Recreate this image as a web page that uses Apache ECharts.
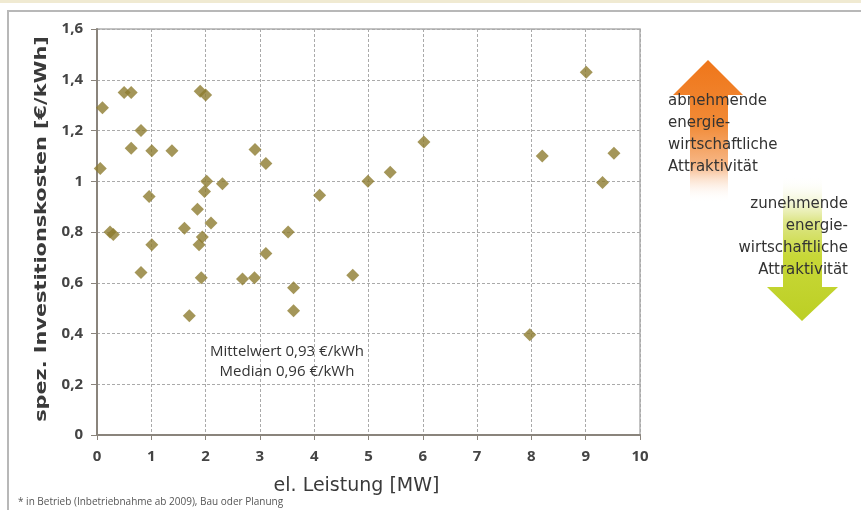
<!DOCTYPE html>
<html>
<head>
<meta charset="utf-8">
<script src="https://cdn.jsdelivr.net/npm/echarts@6/dist/echarts.min.js"></script>
<style>html,body{margin:0;padding:0;background:#fff;}#c{width:861px;height:510px;}</style>
</head>
<body>
<div id="c"></div>
<script>
// el. Leistung [MW]
var capacity = [0.10, 0.06, 0.24, 0.30, 0.50, 0.63, 0.63, 0.81, 0.81, 0.96, 1.01, 1.01, 1.38, 1.61, 1.70, 1.85, 1.88, 1.94, 1.90, 2.00, 2.02, 1.98, 1.92, 2.10, 2.31, 2.68, 2.90, 2.91, 3.11, 3.11, 3.52, 3.62, 3.62, 4.10, 4.71, 4.99, 5.40, 6.02, 7.97, 8.20, 9.01, 9.31, 9.52];
// spez. Investitionskosten [€/kWh]
var cost = [1.29, 1.05, 0.80, 0.79, 1.35, 1.35, 1.13, 1.20, 0.64, 0.94, 1.12, 0.75, 1.12, 0.815, 0.47, 0.89, 0.75, 0.78, 1.355, 1.34, 1.00, 0.96, 0.62, 0.835, 0.99, 0.615, 0.62, 1.125, 1.07, 0.715, 0.80, 0.58, 0.49, 0.945, 0.63, 1.00, 1.035, 1.155, 0.395, 1.10, 1.43, 0.995, 1.11];
var xTicks = [0, 1, 2, 3, 4, 5, 6, 7, 8, 9, 10];
var yTicks = [0, 0.2, 0.4, 0.6, 0.8, 1.0, 1.2, 1.4, 1.6];
var xTitle = 'el. Leistung [MW]';
var yTitle = 'spez. Investitionskosten [€/kWh]';
var statsText = ['Mittelwert 0,93 €/kWh', 'Median 0,96 €/kWh'];
var upText = ['abnehmende', 'energie-', 'wirtschaftliche', 'Attraktivität'];
var downText = ['zunehmende', 'energie-', 'wirtschaftliche', 'Attraktivität'];
var footnote = '* in Betrieb (Inbetriebnahme ab 2009), Bau oder Planung';

var points = capacity.map(function (x, i) { return [x, cost[i]]; });
var FONT = '"Open Sans", sans-serif';

var chart = echarts.init(document.getElementById('c'), null, {renderer: 'canvas'});
chart.setOption({
  backgroundColor: '#ffffff',
  animation: false,
  grid: {left: 97, right: 221, top: 29, bottom: 75, show: true, borderColor: '#b0b0b0', borderWidth: 1.5, backgroundColor: 'transparent'},
  xAxis: {
    type: 'value', min: xTicks[0], max: xTicks[xTicks.length - 1], interval: 1,
    name: xTitle, nameLocation: 'middle', nameGap: 42,
    nameTextStyle: {fontFamily: '"DejaVu Sans", sans-serif', fontSize: 19, color: '#3a3a3a', padding: [0, 24, 0, 0]},
    axisLine: {show: true, onZero: false, lineStyle: {color: '#8a847c', width: 2}},
    axisTick: {show: true, inside: false, length: 5, lineStyle: {color: '#8a847c'}},
    axisLabel: {fontFamily: FONT, fontSize: 15, fontWeight: 'bold', color: '#444', margin: 14},
    splitLine: {show: true, lineStyle: {color: '#aaaaaa', type: [3, 2], width: 1}}
  },
  yAxis: {
    type: 'value', min: yTicks[0], max: yTicks[yTicks.length - 1], interval: 0.2,
    axisLine: {show: true, onZero: false, lineStyle: {color: '#8a847c', width: 2}},
    axisTick: {show: true, length: 6, lineStyle: {color: '#8a847c'}},
    axisLabel: {fontFamily: FONT, fontSize: 15, fontWeight: 'bold', color: '#444', margin: 14,
      formatter: function (v) { return (Math.round(v * 10) / 10).toString().replace('.', ','); }},
    splitLine: {show: true, lineStyle: {color: '#aaaaaa', type: [3, 2], width: 1}}
  },
  series: [{
    type: 'scatter',
    data: points,
    symbol: 'diamond',
    symbolSize: [13, 13],
    itemStyle: {color: '#8d7c30'},
    z: 5
  }],
  graphic: [
    {type: 'rect', z: -10, shape: {x: 0, y: 0, width: 861, height: 3}, style: {fill: '#f0ead2'}},
    {type: 'rect', z: -10, shape: {x: 8, y: 11, width: 900, height: 600}, style: {fill: 'none', stroke: '#b8b8b8', lineWidth: 2}},
    {type: 'text', z: 10, x: 42, y: 229, rotation: Math.PI / 2, scaleX: 1.3,
      style: {text: yTitle, font: 'bold 16px "DejaVu Sans", sans-serif', fill: '#3a3a3a', textAlign: 'center', textVerticalAlign: 'middle'}},
    {type: 'polygon', z: 1,
      shape: {points: [[708, 60], [743, 95], [728, 95], [728, 202], [690, 202], [690, 95], [673, 95]]},
      style: {fill: {type: 'linear', x: 0, y: 0, x2: 0, y2: 1, colorStops: [
        {offset: 0, color: '#ef761a'}, {offset: 0.45, color: '#f18a36'}, {offset: 0.75, color: '#f7b98a'}, {offset: 1, color: 'rgba(255,255,255,0)'}]}}},
    {type: 'polygon', z: 1,
      shape: {points: [[783, 176], [822, 176], [822, 287], [838, 287], [802, 321], [767, 287], [783, 287]]},
      style: {fill: {type: 'linear', x: 0, y: 0, x2: 0, y2: 1, colorStops: [
        {offset: 0, color: 'rgba(255,255,255,0)'}, {offset: 0.3, color: '#dfe78f'}, {offset: 0.55, color: '#c8d838'}, {offset: 1, color: '#bccf24'}]}}},
    {type: 'text', z: 10, left: 668, top: 90,
      style: {text: upText.join('\n'), font: '15px "DejaVu Sans", sans-serif', fill: '#333', lineHeight: 22, textAlign: 'left'}},
    {type: 'text', z: 10, right: 13, top: 193,
      style: {text: downText.join('\n'), font: '15px "DejaVu Sans", sans-serif', fill: '#333', lineHeight: 22, textAlign: 'right'}},
    {type: 'text', z: 10, x: 287, y: 342,
      style: {text: statsText.join('\n'), font: '15px "Open Sans", sans-serif', fill: '#333', lineHeight: 20, textAlign: 'center'}},
    {type: 'text', z: 10, left: 18, top: 497,
      style: {text: footnote, font: '10px "Open Sans", sans-serif', fill: '#555'}}
  ]
});
</script>
</body>
</html>
